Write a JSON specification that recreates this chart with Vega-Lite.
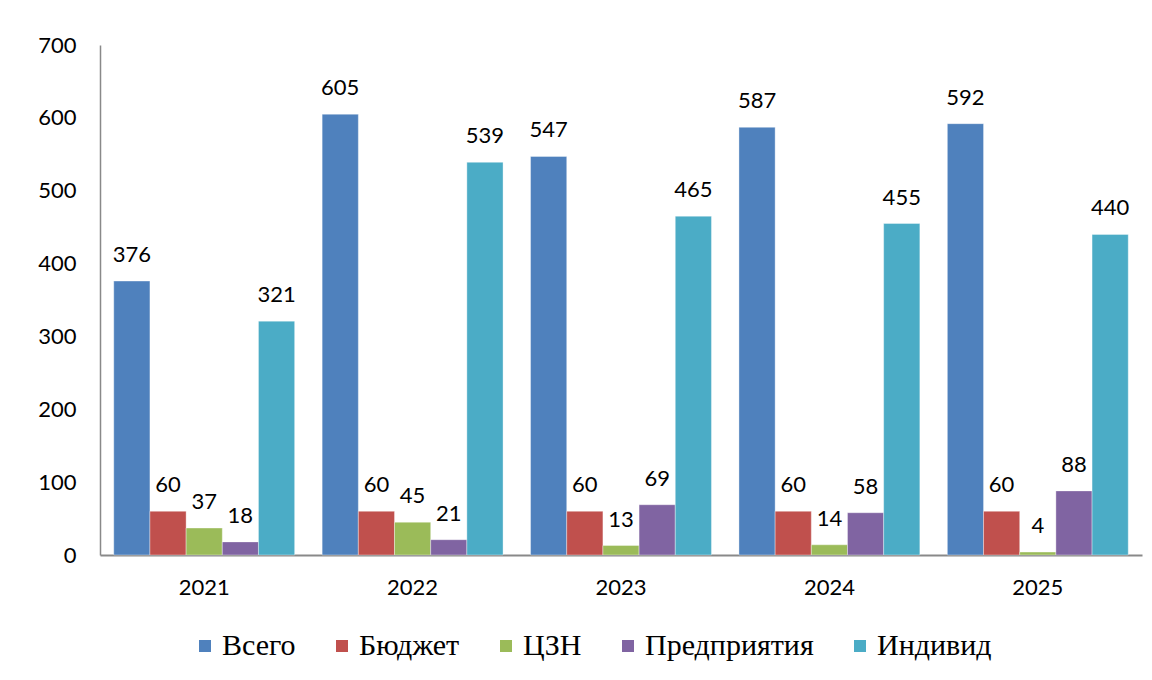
{
  "$schema": "https://vega.github.io/schema/vega-lite/v6.json",
  "width": 1042,
  "height": 510,
  "autosize": "none",
  "padding": {"left": 100, "top": 45, "right": 10, "bottom": 125},
  "background": "white",
  "config": {
    "view": {"stroke": null},
    "font": "Lato"
  },
  "data": {
    "values": [
      {"year": "2021", "series": "Всего", "value": 376},
      {"year": "2021", "series": "Бюджет", "value": 60},
      {"year": "2021", "series": "ЦЗН", "value": 37},
      {"year": "2021", "series": "Предприятия", "value": 18},
      {"year": "2021", "series": "Индивид", "value": 321},
      {"year": "2022", "series": "Всего", "value": 605},
      {"year": "2022", "series": "Бюджет", "value": 60},
      {"year": "2022", "series": "ЦЗН", "value": 45},
      {"year": "2022", "series": "Предприятия", "value": 21},
      {"year": "2022", "series": "Индивид", "value": 539},
      {"year": "2023", "series": "Всего", "value": 547},
      {"year": "2023", "series": "Бюджет", "value": 60},
      {"year": "2023", "series": "ЦЗН", "value": 13},
      {"year": "2023", "series": "Предприятия", "value": 69},
      {"year": "2023", "series": "Индивид", "value": 465},
      {"year": "2024", "series": "Всего", "value": 587},
      {"year": "2024", "series": "Бюджет", "value": 60},
      {"year": "2024", "series": "ЦЗН", "value": 14},
      {"year": "2024", "series": "Предприятия", "value": 58},
      {"year": "2024", "series": "Индивид", "value": 455},
      {"year": "2025", "series": "Всего", "value": 592},
      {"year": "2025", "series": "Бюджет", "value": 60},
      {"year": "2025", "series": "ЦЗН", "value": 4},
      {"year": "2025", "series": "Предприятия", "value": 88},
      {"year": "2025", "series": "Индивид", "value": 440}
    ]
  },
  "encoding": {
    "x": {
      "field": "year",
      "type": "nominal",
      "scale": {"paddingInner": 0.132, "paddingOuter": 0.066},
      "axis": {
        "title": null,
        "labelAngle": 0,
        "labelFontSize": 22,
        "labelColor": "#000000",
        "labelPadding": 22,
        "ticks": false,
        "domainColor": "#898989",
        "domainWidth": 2
      }
    },
    "xOffset": {
      "field": "series",
      "type": "nominal",
      "sort": ["Всего", "Бюджет", "ЦЗН", "Предприятия", "Индивид"],
      "scale": {"paddingInner": 0, "paddingOuter": 0}
    },
    "y": {
      "field": "value",
      "type": "quantitative",
      "scale": {"domain": [0, 700]},
      "axis": {
        "title": null,
        "values": [0, 100, 200, 300, 400, 500, 600, 700],
        "grid": false,
        "ticks": false,
        "labelFontSize": 22,
        "labelColor": "#000000",
        "labelPadding": 24,
        "domainColor": "#898989",
        "domainWidth": 1.5
      }
    }
  },
  "layer": [
    {
      "mark": {"type": "bar", "stroke": "#ffffff", "strokeWidth": 0.6, "strokeOpacity": 0.6},
      "encoding": {
        "color": {
          "field": "series",
          "type": "nominal",
          "sort": ["Всего", "Бюджет", "ЦЗН", "Предприятия", "Индивид"],
          "scale": {
            "domain": ["Всего", "Бюджет", "ЦЗН", "Предприятия", "Индивид"],
            "range": ["#4F81BD", "#C0504D", "#9BBB59", "#8064A2", "#4BACC6"]
          },
          "legend": {
            "title": null,
            "orient": "none",
            "direction": "horizontal",
            "legendX": 90,
            "legendY": 586,
            "symbolType": "square",
            "symbolSize": 144,
            "symbolStrokeWidth": 0,
            "labelFont": "Liberation Serif",
            "labelFontSize": 30,
            "labelColor": "#000000",
            "labelOffset": 2,
            "columnPadding": 31,
            "labelLimit": 400
          }
        }
      }
    },
    {
      "mark": {"type": "text", "baseline": "middle", "dy": -26, "fontSize": 22, "color": "#000000"},
      "encoding": {
        "text": {"field": "value", "type": "quantitative"}
      }
    }
  ]
}
